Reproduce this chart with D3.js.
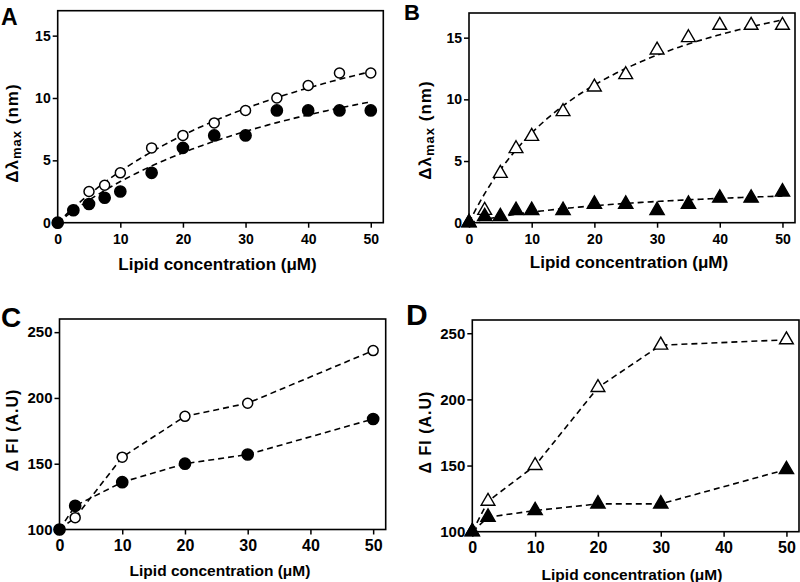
<!DOCTYPE html>
<html><head><meta charset="utf-8">
<script src="https://cdn.jsdelivr.net/npm/d3@7/dist/d3.min.js"></script>
<style>
body{margin:0;background:#fff;}
svg{display:block;font-family:"Liberation Sans",Arial,sans-serif;}
</style></head>
<body><svg id="c" width="800" height="582"></svg>
<script>
// ---------- data ----------
const xTicks = [0, 10, 20, 30, 40, 50];
const yTicksAB = [0, 5, 10, 15];
const yTicksCD = [100, 150, 200, 250];
const concAB = [0, 2.5, 5, 7.5, 10, 15, 20, 25, 30, 35, 40, 45, 50];
const concCD = [0, 2.5, 10, 20, 30, 50];
const aOpen   = [0, 1, 2.5, 3, 4, 6, 7, 8, 9, 10, 11, 12, 12];
const aFilled = [0, 1, 1.5, 2, 2.5, 4, 6, 7, 7, 9, 9, 9, 9];
const bOpen   = [0, 1, 4, 6, 7, 9, 11, 12, 14, 15, 16, 16, 16];
const bFilled = [0, 0.5, 0.5, 1, 1, 1, 1.5, 1.5, 1, 1.5, 2, 2, 2.5];
const cOpen   = [100, 109, 155, 186, 196, 236];
const cFilled = [100, 118, 136, 150, 157, 184];
const dOpen   = [100, 123, 150, 209, 241, 245];
const dFilled = [100, 111, 116, 121, 121, 147];
// one-site binding fits (Bmax, Kd) drawn as dashed curves in A and B
const fitAOpen   = [23.5, 47];
const fitAFilled = [18.8, 47];
const fitBOpen   = [24, 23];
const fitBFilled = [3.5, 31];
const xTitle = "Lipid concentration (\u03BCM)";

const svg = d3.select("#c");
const FONT = '"Liberation Sans",Arial,sans-serif';

const panels = [
  {letter:"A", box:[57.7,383.3,10.7,222.7], ydom:[0,17], yt:yTicksAB, x:concAB,
   series:[{v:aOpen,open:true,fit:fitAOpen},{v:aFilled,open:false,fit:fitAFilled}], shape:"circle",
   lp:[1,25,23], yl:"ab", ylx:18, yly:133, xtx:217.5, xty:270, tfs:14, ttfs:17},
  {letter:"B", box:[469,795,13,222.7], ydom:[0,17], yt:yTicksAB, x:concAB,
   series:[{v:bOpen,open:true,fit:fitBOpen},{v:bFilled,open:false,fit:fitBFilled}], shape:"triangle",
   lp:[404,20,22], yl:"ab", ylx:431, yly:130, xtx:629, xty:268, tfs:14, ttfs:17},
  {letter:"C", box:[59.5,385.7,319,529.5], ydom:[100,260], yt:yTicksCD, x:concCD,
   series:[{v:cOpen,open:true},{v:cFilled,open:false}], shape:"circle",
   lp:[1,327,28], yl:"cd", ylx:18, yly:430, xtx:220, xty:576, tfs:15, ttfs:15.5},
  {letter:"D", box:[472.3,799,320,531.7], ydom:[100,260], yt:yTicksCD, x:concCD,
   series:[{v:dOpen,open:true},{v:dFilled,open:false}], shape:"triangle",
   lp:[406,325,30], yl:"cd", ylx:431, yly:432, xtx:632, xty:580, tfs:15, ttfs:15.5}
];

panels.forEach(p => {
  const [x0,x1,y0,y1] = p.box;
  const xs = d3.scaleLinear().domain([0,52]).range([x0,x1]);
  const ys = d3.scaleLinear().domain(p.ydom).range([y1,y0]);
  const g = svg.append("g");

  // frame
  g.append("rect").attr("x",x0).attr("y",y0).attr("width",x1-x0).attr("height",y1-y0)
    .attr("fill","none").attr("stroke","#000").attr("stroke-width",1.6);

  const xa = g.append("g").attr("transform",`translate(0,${y1})`)
    .call(d3.axisBottom(xs).tickValues(xTicks).tickSize(5).tickPadding(p.tfs>14?5:6).tickFormat(d3.format("d")));
  const ya = g.append("g").attr("transform",`translate(${x0},0)`)
    .call(d3.axisLeft(ys).tickValues(p.yt).tickSize(5).tickPadding(2).tickFormat(d3.format("d")));
  [xa,ya].forEach(a=>{
    a.select(".domain").remove();
    a.selectAll("line").attr("stroke","#000").attr("stroke-width",1.5);
    a.selectAll("text").attr("fill","#000").style("font-family",FONT)
      .style("font-weight","bold").style("font-size",(a===xa && p.tfs>14?16:p.tfs)+"px");
  });

  // lines
  p.series.forEach(s => {
    let pts;
    if (s.fit) {
      const [bm,kd] = s.fit;
      pts = d3.range(0,50.01,0.5).map(x=>[x, bm*x/(kd+x)]);
    } else {
      pts = p.x.map((x,i)=>[x,s.v[i]]);
    }
    g.append("path").attr("d", d3.line().x(d=>xs(d[0])).y(d=>ys(d[1]))(pts))
      .attr("fill","none").attr("stroke","#000").attr("stroke-width",1.6)
      .attr("stroke-dasharray","6,4");
  });

  // markers (open first, filled on top)
  p.series.forEach(s => {
    p.x.forEach((x,i) => {
      if (p.shape==="circle") {
        g.append("circle").attr("cx",xs(x)).attr("cy",ys(s.v[i])).attr("r",s.open?5:5.6)
          .attr("fill",s.open?"#fff":"#000").attr("stroke","#000").attr("stroke-width",1.5);
      } else {
        g.append("path").attr("d", d3.symbol().type(d3.symbolTriangle).size(s.open?82:88)())
          .attr("transform",`translate(${xs(x)},${ys(s.v[i])})`)
          .attr("fill",s.open?"#fff":"#000").attr("stroke","#000").attr("stroke-width",1.4);
      }
    });
  });

  // panel letter
  svg.append("text").attr("x",p.lp[0]).attr("y",p.lp[1]).text(p.letter)
    .style("font-family",FONT).style("font-weight","bold").style("font-size",p.lp[2]+"px");

  // x title
  svg.append("text").attr("x",p.xtx).attr("y",p.xty).attr("text-anchor","middle").text(xTitle)
    .style("font-family",FONT).style("font-weight","bold").style("font-size",p.ttfs+"px");

  // y title
  const yt = svg.append("text").attr("transform",`translate(${p.ylx},${p.yly}) rotate(-90)`)
    .attr("text-anchor","middle").style("font-family",FONT).style("font-weight","bold")
    .style("font-size",(p.yl==="ab"?17:16)+"px").style("letter-spacing","1px");
  if (p.yl==="ab") {
    yt.append("tspan").text("\u0394\u03BB");
    yt.append("tspan").text("max").attr("dy",3).style("font-size","13px");
    yt.append("tspan").text(" (nm)").attr("dy",-3);
  } else {
    yt.text("\u0394 FI (A.U)");
  }
});
</script></body></html>
